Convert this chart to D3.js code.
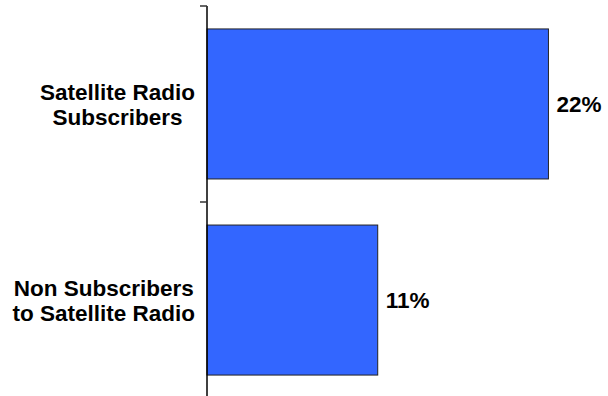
<!DOCTYPE html>
<html>
<head>
<meta charset="utf-8">
<script src="https://cdn.jsdelivr.net/npm/d3@7"></script>
<style>
  html, body { margin: 0; padding: 0; background: #fff; }
  svg { display: block; }
  text { font-family: Arial, "Liberation Sans", sans-serif; font-weight: bold; fill: #000; }
</style>
</head>
<body>
<svg id="chart" width="608" height="396"></svg>
<script>
// Share of each group (percent)
const categories = [
  ["Satellite Radio", "Subscribers"],
  ["Non Subscribers", "to Satellite Radio"]
];
const values = [22, 11];
const valueLabels = ["22%", "11%"];

const svg = d3.select("#chart");
const axisX = 207;
const fontSize = "22.5px";

const x = d3.scaleLinear().domain([0, 25]).range([axisX, axisX + 25 * 15.52]);
const y = d3.scaleBand()
  .domain(d3.range(categories.length))
  .range([6, 398])
  .paddingInner(0.235)
  .paddingOuter(0.117);

// Bars
svg.selectAll("rect.bar")
  .data(values)
  .join("rect")
  .attr("class", "bar")
  .attr("x", x(0))
  .attr("y", (d, i) => y(i))
  .attr("width", d => x(d) - x(0))
  .attr("height", y.bandwidth())
  .attr("fill", "#3366FF")
  .attr("stroke", "#222")
  .attr("stroke-width", 1);

// Value labels at bar ends
svg.selectAll("text.val")
  .data(values)
  .join("text")
  .attr("class", "val")
  .attr("x", d => x(d) + 8)
  .attr("y", (d, i) => y(i) + y.bandwidth() / 2)
  .attr("dy", "0.36em")
  .style("font-size", fontSize)
  .text((d, i) => valueLabels[i]);

// Category axis: vertical line with boundary ticks
const [r0, r1] = y.range();
const axisG = svg.append("g");
axisG.append("line")
  .attr("x1", axisX).attr("x2", axisX)
  .attr("y1", r0).attr("y2", r1)
  .attr("stroke", "#000").attr("stroke-width", 1.5);
axisG.selectAll("line.tick")
  .data(d3.range(categories.length + 1))
  .join("line")
  .attr("class", "tick")
  .attr("x1", axisX - 7).attr("x2", axisX)
  .attr("y1", i => r0 + i * (r1 - r0) / categories.length)
  .attr("y2", i => r0 + i * (r1 - r0) / categories.length)
  .attr("stroke", "#333").attr("stroke-width", 1.5);

// Category labels: two lines, centred within their own block, block right-aligned near the axis
const lineH = 25;
categories.forEach((lines, i) => {
  const cy = y(i) + y.bandwidth() / 2;
  const g = svg.append("g");
  const texts = lines.map((ln, k) =>
    g.append("text")
      .attr("y", cy + (k - (lines.length - 1) / 2) * lineH)
      .attr("dy", "0.36em")
      .attr("text-anchor", "middle")
      .style("font-size", fontSize)
      .text(ln));
  const maxW = d3.max(texts, t => t.node().getComputedTextLength());
  const cx = 195 - maxW / 2;
  texts.forEach(t => t.attr("x", cx));
});
</script>
</body>
</html>
